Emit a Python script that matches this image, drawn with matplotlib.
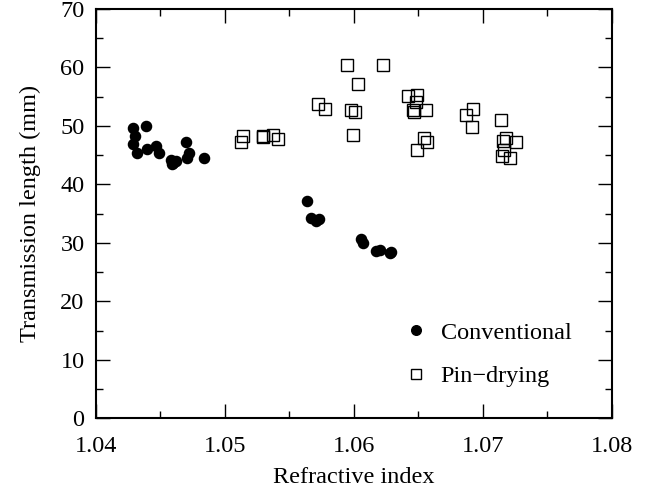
import matplotlib
matplotlib.use("Agg")
import matplotlib.pyplot as plt
from matplotlib.ticker import MultipleLocator

plt.rcParams['font.family'] = ['Liberation Serif', 'DejaVu Serif']

conv_x = [1.0429, 1.0439, 1.04305, 1.0429, 1.0432, 1.0440, 1.0447, 1.0449,
          1.0458, 1.0460, 1.0462, 1.0459, 1.0470, 1.0472, 1.0471, 1.0484,
          1.0564, 1.0567, 1.0571, 1.0573, 1.0606, 1.0607, 1.0617, 1.0620,
          1.0628, 1.0629]
conv_y = [49.6, 50.0, 48.3, 46.9, 45.3, 46.0, 46.6, 45.4,
          44.2, 43.7, 44.0, 43.5, 47.2, 45.4, 44.5, 44.6,
          37.2, 34.2, 33.7, 34.0, 30.6, 29.9, 28.6, 28.7,
          28.2, 28.5]

pin_x = [1.05144, 1.05124, 1.0530, 1.05295, 1.05377, 1.05416,
         1.05946, 1.06225, 1.06036, 1.05726, 1.05778, 1.05977, 1.0601, 1.05997,
         1.06419, 1.06488, 1.06483, 1.06462, 1.06467, 1.06558, 1.06547, 1.06566, 1.06488,
         1.06922, 1.06868, 1.06919,
         1.0714, 1.07178, 1.0716, 1.07258, 1.07165, 1.07147, 1.07212]
pin_y = [48.2, 47.2, 48.2, 48.1, 48.4, 47.8,
         60.4, 60.5, 57.1, 53.7, 52.9, 52.7, 52.3, 48.5,
         55.1, 55.3, 54.1, 52.8, 52.3, 52.8, 47.9, 47.3, 45.9,
         52.9, 51.9, 49.8,
         51.0, 47.9, 47.4, 47.3, 45.9, 44.9, 44.5]

xticks = [1.04, 1.05, 1.06, 1.07, 1.08]
xticklabels = ["1.04", "1.05", "1.06", "1.07", "1.08"]
xlabel = "Refractive index"
ylabel = "Transmission length (mm)"
labels = ["Conventional", "Pin\u2212drying"]

fig = plt.figure(figsize=(6.55, 4.95), dpi=100)
ax = fig.add_axes([0.1461, 0.155, 0.9339 - 0.1461, 0.9818 - 0.155])

ax.plot(conv_x, conv_y, 'o', color='black', markersize=7.3, label=labels[0], linestyle='none')
ax.plot(pin_x, pin_y, 's', markerfacecolor='none', markeredgecolor='black',
        markeredgewidth=1.0, markersize=8.3, label=labels[1], linestyle='none')

ax.set_xlim(1.04, 1.08)
ax.set_ylim(0, 70)
ax.set_xticks(xticks)
ax.set_xticklabels(xticklabels)
ax.xaxis.set_minor_locator(MultipleLocator(0.005))
ax.yaxis.set_major_locator(MultipleLocator(10))
ax.yaxis.set_minor_locator(MultipleLocator(5))

ax.tick_params(which='both', direction='in', top=True, right=True, labelsize=17.5, width=1.0)
ax.tick_params(which='major', length=10)
ax.tick_params(which='minor', length=5)
ax.tick_params(axis='x', which='major', pad=13)
ax.tick_params(axis='y', which='major', pad=8)
for s in ax.spines.values():
    s.set_linewidth(1.5)

ax.set_xlabel(xlabel, fontsize=17.5, labelpad=7)
ax.set_ylabel(ylabel, fontsize=17.5, labelpad=14)

ax.legend(loc='upper left', bbox_to_anchor=(0.579, 0.26), frameon=False, fontsize=17.5,
          handlelength=1.0, handletextpad=0.5, labelspacing=0.9, numpoints=1,
          borderaxespad=0, markerscale=0.95)

fig.savefig("out.png", dpi=100)
